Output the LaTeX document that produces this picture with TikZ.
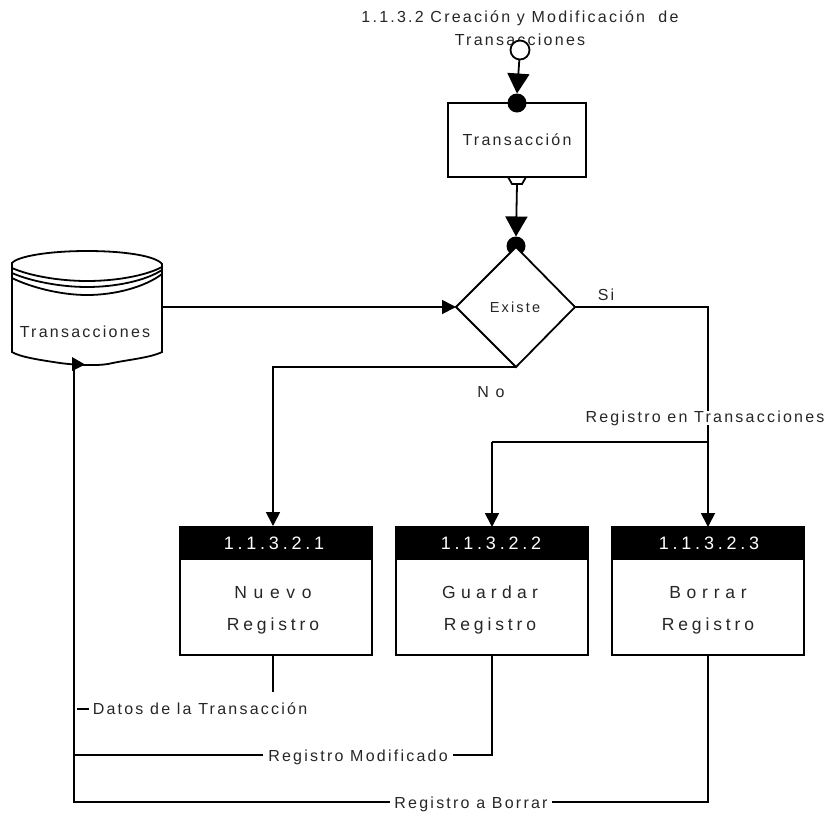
\documentclass[tikz,border=0pt]{standalone}
\usepackage{fontspec}
\setmainfont{Liberation Sans}[LetterSpace=14]
\usetikzlibrary{arrows.meta,calc}
\tikzset{
  x=1pt,y=-1pt,
  every node/.style={inner sep=0pt,outer sep=0pt},
  ln/.style={line width=1.8pt,line join=miter},
  arr/.style={ln,-{Triangle[length=14pt,width=14pt]}},
  arrbig/.style={ln,-{Triangle[length=20pt,width=22pt]}},
  lbl/.style={font=\fontsize{16}{23}\selectfont,text=black!85,align=center},
  procbody/.style={draw,line width=1.8pt,fill=white,minimum width=192pt,minimum height=128pt},
  prochead/.style={fill=black,minimum width=193.8pt,minimum height=34pt},
  procid/.style={text=white,font=\fontsize{18}{20}\selectfont\addfontfeature{LetterSpace=21}},
  proctext/.style={font=\fontsize{17.5}{32}\selectfont,text=black!85,align=center},
  blackdot/.style={circle,fill=black,minimum size=19pt},
}
\begin{document}
\begin{tikzpicture}
\useasboundingbox (0,0) rectangle (833,815);
% database
\path[ln,draw,fill=white] (12,263)
  .. controls (18,256) and (50,251) .. (87,251)
  .. controls (125,251) and (156,256) .. (162,264)
  -- (162,352) .. controls (150,358) and (125,360) .. (108,364)
  .. controls (95,366) and (75,365) .. (60,363)
  .. controls (40,360) and (20,357) .. (12,352) -- cycle;
\draw[ln] (12,268) .. controls (30,276) and (60,281) .. (87,281) .. controls (115,281) and (145,276) .. (162,267);
\draw[ln] (12,273) .. controls (30,281) and (60,287) .. (87,287) .. controls (115,287) and (145,281) .. (162,270);
\draw[ln] (12,278) .. controls (30,287) and (60,295) .. (87,295) .. controls (115,295) and (145,287) .. (162,274);
\node[lbl] (db) at (85,332) {Transacciones};
\coordinate (dbout) at (162,307);
\coordinate (dbin) at (86,365);
% title
\node[lbl] (title) at (520,28) {1.1.3.2 Creación y Modificación\ \ de\\Transacciones};
% transaccion box
\node[draw,line width=1.8pt,minimum width=138pt,minimum height=74pt,lbl] (tr) at (517,140) {Transacción};
\node[blackdot] (topdot) at (517,103) {};
\node[circle,draw,line width=1.8pt,fill=white,minimum size=19pt] (open) at (520,50) {};
\draw[arrbig] (open) -- (topdot.north);
\coordinate (trapc) at (517,184);
\draw[ln,fill=white] (508,177) -- (512,184) -- (522,184) -- (526,177) -- cycle;
% diamond
\node[blackdot] (ddot) at (516,246) {};
\coordinate (dt) at (516,247);
\coordinate (dl) at (456,307);
\coordinate (dr) at (575,307);
\coordinate (db2) at (516,367);
\draw[ln,fill=white] (dt) -- (dr) -- (db2) -- (dl) -- cycle;
\node[lbl,font=\fontsize{14.5}{17}\selectfont\addfontfeature{LetterSpace=15}] (ex) at (515,307) {Existe};
\draw[arrbig] (trapc) -- (ddot.north);
% process boxes
\foreach \n/\cx/\tx/\id/\a/\b/\ls in {p1/276/273/1.1.3.2.1/Nuevo/Registro/38,p2/492/490/1.1.3.2.2/Guardar/Registro/30,p3/708/708/1.1.3.2.3/Borrar/Registro/33}{
  \node[procbody] (\n) at (\cx,591) {};
  \node[prochead] (\n h) at (\cx,543) {};
  \node[procid] (\n i) at (\tx+1,543) {\id};
  \node[proctext] (\n t) at (\tx,610) {{\addfontfeature{LetterSpace=\ls}\a}\\{\addfontfeature{LetterSpace=22}\b}};
}
% labels
\node[lbl] (si) at (606,295) {Si};
\node[lbl,font=\fontsize{16}{17}\selectfont\addfontfeature{LetterSpace=41}] (no) at (491,392) {No};
\node[lbl] (rt) at (705,418) {Registro en Transacciones};
\node[lbl] (dat) at (200,709) {Datos de la Transacción};
\node[lbl,minimum width=190pt] (rm) at (358,757) {Registro Modificado};
\node[lbl,minimum width=162pt] (rb) at (471,804) {Registro a Borrar};
% connectors
\coordinate (c1) at (708,307);
\coordinate (c2) at (708,442);
\coordinate (c3) at (492,442);
\coordinate (c4) at (273,367);
\coordinate (p1in) at (273,526);
\coordinate (p1out) at (273,655);
\coordinate (p1end) at (273,692);
\coordinate (p2out) at (492,655);
\coordinate (p3out) at (708,655);
\coordinate (c5) at (492,755);
\coordinate (c6) at (708,802);
\coordinate (v1) at (74,755);
\coordinate (v2) at (74,802);
\coordinate (v3) at (74,365);
\coordinate (dash) at (77,709);
\coordinate (dashe) at (89,709);
\draw[arr] (dbout) -- (dl);
\draw[ln] (dr) -- (c1) -- (rt.north -| c1);
\draw[arr] (rt.south -| c1) -- (p3.north -| c1);
\draw[ln] (c2) -- (c3);
\draw[arr] (c3) -- (p2.north);
\draw[arr] (db2) -- (c4) -- (p1in);
\draw[ln] (p1out) -- (p1end);
\draw[ln] (dash) -- (dashe);
\draw[ln] (p2out) -- (c5) -- (rm.east |- c5);
\draw[ln] (rm.west |- v1) -- (v1);
\draw[ln] (p3out) -- (c6) -- (rb.east |- c6);
\draw[ln] (rb.west |- c6) -- (v2) -- (v3);
\fill (72,357) -- (85,364.5) -- (72,371) -- cycle;
\end{tikzpicture}
\end{document}
